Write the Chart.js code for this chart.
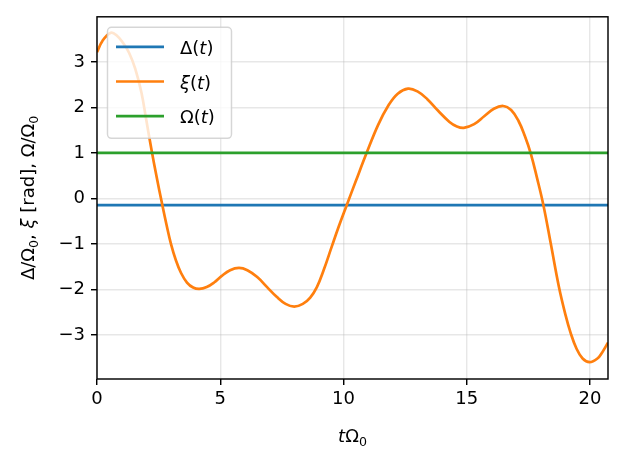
<!DOCTYPE html>
<html>
<head>
<meta charset="utf-8">
<script src="https://cdn.jsdelivr.net/npm/chart.js@4"></script>
<style>
  html, body { margin: 0; padding: 0; background: #fff; }
  #wrap { width: 624px; height: 464px; }
</style>
</head>
<body>
<div id="wrap"><canvas id="chart" width="624" height="464"></canvas></div>
<script>
// Data
const tValues  = [0, 0.22, 0.56, 0.8, 1.05, 1.3, 1.55, 1.8, 2.0, 2.2, 2.42, 2.64, 2.82, 3.0, 3.2, 3.41, 3.65, 3.9, 4.15, 4.45, 4.75, 5.05, 5.4, 5.76, 6.1, 6.5, 6.9, 7.3, 7.65, 8.0, 8.35, 8.65, 8.92, 9.2, 9.53, 9.8, 10.13, 10.5, 10.94, 11.41, 11.82, 12.2, 12.62, 13.0, 13.4, 13.83, 14.3, 14.6, 14.88, 15.3, 15.72, 16.1, 16.48, 16.8, 17.1, 17.35, 17.6, 17.85, 18.11, 18.41, 18.74, 19.0, 19.21, 19.45, 19.7, 19.98, 20.3, 20.5, 20.73];
const xiValues = [3.21, 3.46, 3.64, 3.58, 3.42, 3.2, 2.85, 2.33, 1.72, 1.1, 0.47, -0.12, -0.58, -1.0, -1.36, -1.64, -1.85, -1.96, -1.99, -1.95, -1.85, -1.71, -1.58, -1.53, -1.58, -1.73, -1.95, -2.17, -2.32, -2.38, -2.32, -2.18, -1.95, -1.57, -1.05, -0.63, -0.15, 0.38, 1.0, 1.62, 2.04, 2.3, 2.41, 2.35, 2.18, 1.93, 1.68, 1.58, 1.55, 1.63, 1.81, 1.97, 2.03, 1.94, 1.7, 1.38, 0.98, 0.45, -0.15, -1.0, -1.95, -2.55, -2.95, -3.3, -3.52, -3.6, -3.52, -3.38, -3.17];
const lineT = [0, 20.73];
const deltaValues = [-0.15, -0.15];
const omegaValues = [1, 1];
const xTicks = [0, 5, 10, 15, 20];
const yTicks = [-3, -2, -1, 0, 1, 2, 3];
const xRange = [0, 20.73];
const yRange = [-3.97, 3.99];

const FONT = "'DejaVu Sans'";
const FS = 18;

// label pieces: [text, italic, subscript]
const legendLabels = [
  [["Δ(", false], ["t", true], [")", false]],
  [["ξ", true], ["(", false], ["t", true], [")", false]],
  [["Ω(", false], ["t", true], [")", false]]
];
const xTitle = [["t", true], ["Ω", false], ["0", false, true]];
const yTitle = [["Δ/Ω", false], ["0", false, true], [", ", false], ["ξ", true], [" [rad], Ω/Ω", false], ["0", false, true]];

function toPoints(xs, ys) { return xs.map((x, i) => ({ x: x, y: ys[i] })); }

function partFont(p) {
  const size = p[2] ? FS * 0.7 : FS;
  return (p[1] ? 'italic ' : '') + size + 'px ' + FONT;
}
function richWidth(ctx, parts) {
  let w = 0;
  parts.forEach(p => { ctx.font = partFont(p); w += ctx.measureText(p[0]).width; });
  return w;
}
function drawRich(ctx, parts, x, y, align) {
  let cx = align === 'center' ? x - richWidth(ctx, parts) / 2 : x;
  ctx.textBaseline = 'alphabetic';
  ctx.textAlign = 'left';
  parts.forEach(p => {
    ctx.font = partFont(p);
    ctx.fillText(p[0], cx, y + (p[2] ? 4 : 0));
    cx += ctx.measureText(p[0]).width;
  });
}

const framePlugin = {
  id: 'frame',
  afterDatasetsDraw(chart) {
    const { ctx, chartArea: a } = chart;
    ctx.save();
    ctx.strokeStyle = '#000';
    ctx.lineWidth = 1.44;
    ctx.strokeRect(a.left, a.top, a.right - a.left, a.bottom - a.top);
    ctx.restore();
  },
  afterDraw(chart) {
    const { ctx, chartArea: a } = chart;
    ctx.save();
    ctx.fillStyle = '#000';
    // axis titles
    drawRich(ctx, xTitle, (a.left + a.right) / 2, 442, 'center');
    ctx.save();
    ctx.translate(34, (a.top + a.bottom) / 2);
    ctx.rotate(-Math.PI / 2);
    drawRich(ctx, yTitle, 0, 0, 'center');
    ctx.restore();

    // legend box
    const bx = a.left + 10.5, by = a.top + 10.5, bw = 124, bh = 111;
    ctx.beginPath();
    ctx.roundRect(bx, by, bw, bh, 4);
    ctx.fillStyle = 'rgba(255,255,255,0.8)';
    ctx.fill();
    ctx.strokeStyle = 'rgba(204,204,204,0.8)';
    ctx.lineWidth = 1.44;
    ctx.stroke();
    chart.data.datasets.forEach((ds, i) => {
      const ry = a.top + 30 + i * 34.7;
      ctx.beginPath();
      ctx.moveTo(a.left + 19, ry);
      ctx.lineTo(a.left + 67, ry);
      ctx.strokeStyle = ds.borderColor;
      ctx.lineWidth = 2.7;
      ctx.stroke();
      ctx.fillStyle = '#000';
      drawRich(ctx, legendLabels[i], a.left + 83, ry + 7, 'left');
    });
    ctx.restore();
  }
};

const ctx = document.getElementById('chart').getContext('2d');
const chart = new Chart(ctx, {
  type: 'line',
  data: {
    datasets: [
      { label: 'Δ(t)', data: toPoints(lineT, deltaValues), borderColor: '#1f77b4', order: 3 },
      { label: 'ξ(t)', data: toPoints(tValues, xiValues), borderColor: '#ff7f0e', order: 2, tension: 0.4 },
      { label: 'Ω(t)', data: toPoints(lineT, omegaValues), borderColor: '#2ca02c', order: 1 }
    ]
  },
  options: {
    responsive: false,
    animation: false,
    devicePixelRatio: 1,
    elements: {
      point: { radius: 0 },
      line: { borderWidth: 2.7, fill: false }
    },
    layout: { padding: { top: 16, right: 16, left: 0, bottom: 0 } },
    plugins: { legend: { display: false }, tooltip: { enabled: false } },
    scales: {
      x: {
        type: 'linear',
        min: xRange[0], max: xRange[1],
        afterBuildTicks: s => { s.ticks = xTicks.map(v => ({ value: v })); },
        afterFit: s => { s.height = 85; },
        grid: { color: 'rgba(176,176,176,0.3)', lineWidth: 1.44, tickColor: '#000', tickWidth: 1.44, tickLength: 6 },
        border: { display: false },
        ticks: { color: '#000', font: { family: FONT, size: FS }, padding: 4, maxRotation: 0 }
      },
      y: {
        type: 'linear',
        min: yRange[0], max: yRange[1],
        afterBuildTicks: s => { s.ticks = yTicks.map(v => ({ value: v })); },
        afterFit: s => { s.width = 97; },
        grid: { color: 'rgba(176,176,176,0.3)', lineWidth: 1.44, tickColor: '#000', tickWidth: 1.44, tickLength: 6 },
        border: { display: false },
        ticks: {
          color: '#000', font: { family: FONT, size: FS }, padding: 6,
          callback: v => String(v).replace('-', '\u2212')
        }
      }
    }
  },
  plugins: [framePlugin]
});
</script>
</body>
</html>
